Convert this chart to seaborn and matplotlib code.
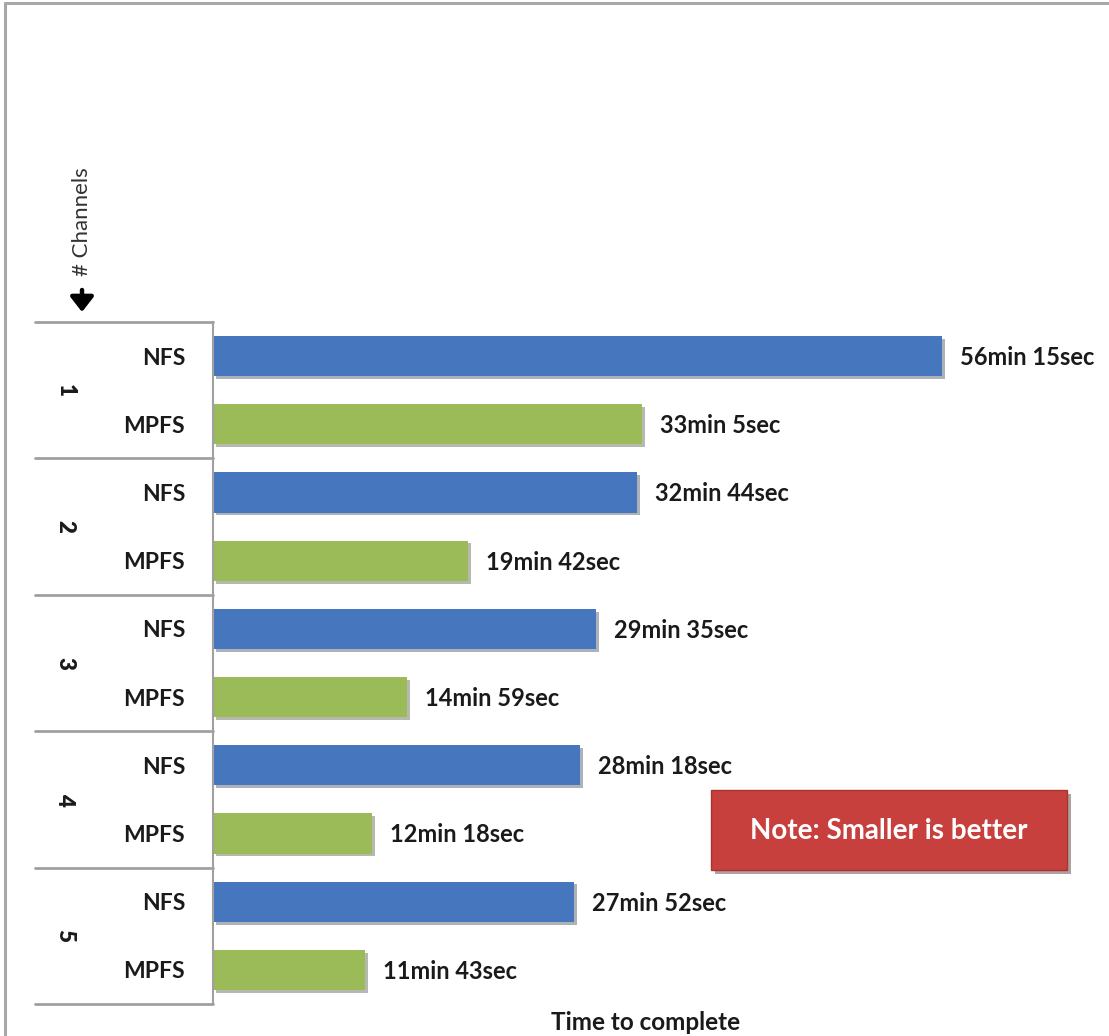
import numpy as np
import pandas as pd
import matplotlib
matplotlib.use("Agg")
import matplotlib.pyplot as plt
import seaborn as sns
from matplotlib.lines import Line2D
from matplotlib.patches import FancyBboxPatch, FancyArrowPatch
import matplotlib.patheffects as pe
import matplotlib.transforms as mtransforms

# ---- data ----
channels = ["1", "2", "3", "4", "5"]
systems = ["NFS", "MPFS"]
nfs_minutes = [56 + 15/60, 32 + 44/60, 29 + 35/60, 28 + 18/60, 27 + 52/60]
mpfs_minutes = [33 + 5/60, 19 + 42/60, 14 + 59/60, 12 + 18/60, 11 + 43/60]
nfs_labels = ["56min 15sec", "32min 44sec", "29min 35sec", "28min 18sec", "27min 52sec"]
mpfs_labels = ["33min 5sec", "19min 42sec", "14min 59sec", "12min 18sec", "11min 43sec"]

rows, sysl, vals, labs = [], [], [], []
for i, ch in enumerate(channels):
    for s, v, l in (("NFS", nfs_minutes[i], nfs_labels[i]), ("MPFS", mpfs_minutes[i], mpfs_labels[i])):
        rows.append(f"{ch}-{s}")
        sysl.append(s)
        vals.append(v)
        labs.append(l)
df = pd.DataFrame({"row": rows, "system": sysl, "minutes": vals})

sns.set_theme(style="white")
plt.rcParams["font.family"] = ["Lato", "DejaVu Sans"]

W, H = 1109, 1036
fig = plt.figure(figsize=(W/100, H/100), dpi=100)
ax = fig.add_axes([213/W, 32/H, (1100-213)/W, 682/H])

palette = {"NFS": "#4677BE", "MPFS": "#9BBB59"}
sns.barplot(data=df, y="row", x="minutes", hue="system", palette=palette,
            dodge=False, width=0.59, orient="h", ax=ax, legend=False,
            edgecolor="none", saturation=1)

for p in ax.patches:
    p.set_path_effects([pe.SimplePatchShadow(offset=(2, -2), alpha=0.35), pe.Normal()])

ax.set_xlim(0, (1100-213)/12.96)
ax.set_ylim(len(rows) - 0.5, -0.5)

TXT = "#1a1a1a"
# value labels
for i, (v, l) in enumerate(zip(vals, labs)):
    ax.annotate(l, xy=(v, i), xytext=(13, -1), textcoords="offset points",
                va="center", ha="left", fontsize=17, fontweight="bold", color=TXT)

# tick labels: system names
ax.set_yticks(range(len(rows)))
ax.set_yticklabels(sysl, fontsize=16.5, fontweight="bold", color=TXT)
ax.tick_params(axis="y", length=0, pad=20)
ax.set_xticks([])
ax.set_xlabel("")
ax.set_ylabel("")

for s in ["top", "right", "bottom"]:
    ax.spines[s].set_visible(False)
ax.spines["left"].set_color("#A0A0A0")
ax.spines["left"].set_linewidth(1.5)

# group boxes
trans = mtransforms.blended_transform_factory(ax.transAxes, ax.transData)
x0 = (35 - 213) / (1100 - 213)
for k in range(len(channels) + 1):
    yb = 2 * k - 0.5
    ax.add_line(Line2D([x0, 0], [yb, yb], transform=trans, color="#A0A0A0",
                       lw=2, clip_on=False))
xg = (65 - 213) / (1100 - 213)
for k, ch in enumerate(channels):
    ax.text(xg, 2 * k + 0.5, ch, transform=trans, rotation=270, ha="center",
            va="center", fontsize=16, fontweight="heavy", color=TXT)

# "# Channels" label with bold arrow
fig.text(82/W, 1 - 222/H, "# Channels", rotation=90, ha="center", va="center",
         fontsize=16, color="#333333")
arrow = FancyArrowPatch((82/W, 1 - 290/H), (82/W, 1 - 312/H), transform=fig.transFigure,
                        arrowstyle="-|>,head_length=0.45,head_width=0.35",
                        mutation_scale=20, lw=3.2, color="black", shrinkA=0, shrinkB=0)
fig.add_artist(arrow)

# x axis title
fig.text(646/W, 1 - 1022/H, "Time to complete", ha="center", va="center",
         fontsize=17.5, fontweight="bold", color=TXT)

# note box
box = FancyBboxPatch((711/W, 1 - 870/H), 356/W, 80/H, boxstyle="square,pad=0",
                     transform=fig.transFigure, facecolor="#C8403D", edgecolor="#A83430",
                     lw=1,
                     path_effects=[pe.SimplePatchShadow(offset=(3, -3), alpha=0.4), pe.Normal()])
fig.add_artist(box)
fig.text(889/W, 1 - 831/H, "Note: Smaller is better", ha="center", va="center",
         fontsize=20, fontweight="bold", color="white")

# outer frame
fig.add_artist(Line2D([5/W, 1], [1 - 3/H, 1 - 3/H], transform=fig.transFigure,
                      color="#A8A8A8", lw=2.2))
fig.add_artist(Line2D([5/W, 5/W], [0, 1 - 3/H], transform=fig.transFigure,
                      color="#A8A8A8", lw=2.2))

fig.savefig("out.png", dpi=100)
